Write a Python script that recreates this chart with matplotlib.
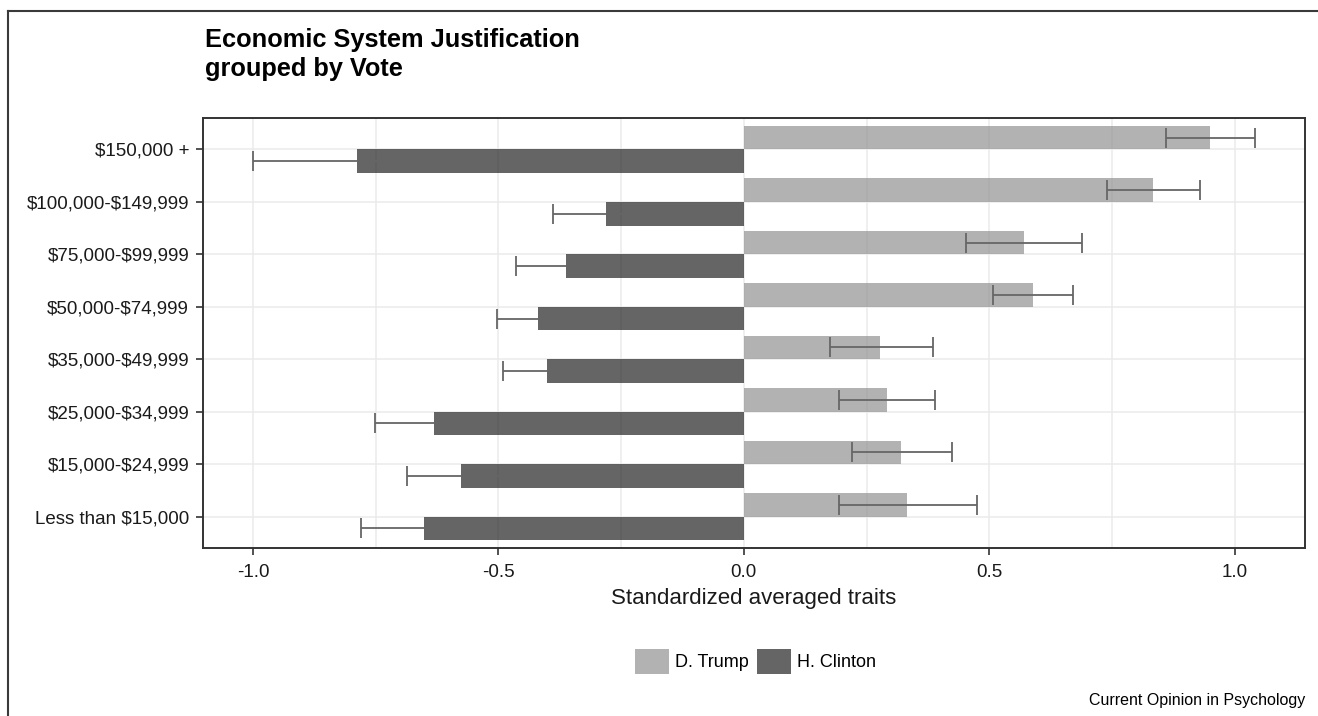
import numpy as np
import matplotlib
matplotlib.use("Agg")
import matplotlib.pyplot as plt
from matplotlib.patches import Patch
from matplotlib.lines import Line2D

plt.rcParams['font.family'] = ['Liberation Sans', 'DejaVu Sans']

# income groups, top to bottom as shown
categories = ['$150,000 +', '$100,000-$149,999', '$75,000-$99,999', '$50,000-$74,999',
              '$35,000-$49,999', '$25,000-$34,999', '$15,000-$24,999', 'Less than $15,000']

# D. Trump voters: mean and error bar ends
trump = [0.949, 0.833, 0.570, 0.589, 0.278, 0.291, 0.320, 0.332]
trump_lo = [0.861, 0.739, 0.453, 0.507, 0.175, 0.194, 0.220, 0.194]
trump_hi = [1.041, 0.929, 0.690, 0.670, 0.385, 0.389, 0.424, 0.475]

# H. Clinton voters: mean and error half-width
clinton = [-0.788, -0.280, -0.363, -0.420, -0.401, -0.632, -0.577, -0.651]
clinton_err = [0.213, 0.108, 0.101, 0.083, 0.089, 0.119, 0.110, 0.130]

xticks = [-1.0, -0.5, 0.0, 0.5, 1.0]
xminor = [-0.75, -0.25, 0.25, 0.75]

trump_color = '#929292'
clinton_color = '#242424'
bar_alpha = 0.7
err_color = '#666666'

fig = plt.figure(figsize=(13.18, 7.16), dpi=100)
ax = fig.add_axes([0.154, 0.2346, 0.836, 0.6006])

y = np.arange(len(categories))[::-1]
h = 0.45
trump_arr = np.array(trump)
ax.barh(y + h / 2, trump, height=h, color=trump_color, alpha=bar_alpha, zorder=2)
ax.barh(y - h / 2, clinton, height=h, color=clinton_color, alpha=bar_alpha, zorder=2)

ax.errorbar(trump, y + h / 2,
            xerr=[trump_arr - np.array(trump_lo), np.array(trump_hi) - trump_arr],
            fmt='none', ecolor=err_color, elinewidth=1.3, capsize=7, capthick=1.3, zorder=3)
ax.errorbar(clinton, y - h / 2, xerr=clinton_err,
            fmt='none', ecolor=err_color, elinewidth=1.3, capsize=7, capthick=1.3, zorder=3)

ax.set_xlim(-1.102, 1.143)
ax.set_ylim(-0.6, 7.6)
ax.set_yticks(y)
# escape dollar signs so they are not read as mathtext
ax.set_yticklabels([c.replace('$', r'\$') for c in categories])
ax.set_xticks(xticks)
ax.set_xticklabels(['%.1f' % v for v in xticks])
ax.set_xticks(xminor, minor=True)
ax.tick_params(axis='x', which='minor', length=0)
ax.tick_params(axis='both', which='major', labelsize=13.5, length=5, width=1.2,
               color='#333333', labelcolor='#1a1a1a', pad=5)
ax.tick_params(axis='x', which='major', pad=6.5)

ax.grid(True, which='both', axis='x', color='#ebebeb', lw=1.1, zorder=0)
ax.grid(True, which='major', axis='y', color='#ebebeb', lw=1.1, zorder=0)
ax.set_axisbelow(True)
for s in ax.spines.values():
    s.set_color('#333333')
    s.set_linewidth(1.4)

ax.set_xlabel('Standardized averaged traits', fontsize=16, color='#1a1a1a', labelpad=5)

fig.text(0.1555, 1 - 47 / 716, 'Economic System Justification', fontsize=18.3,
         fontweight='bold', ha='left', va='baseline')
fig.text(0.1555, 1 - 76 / 716, 'grouped by Vote', fontsize=18.3,
         fontweight='bold', ha='left', va='baseline')

handles = [Patch(facecolor=trump_color, alpha=bar_alpha, label='D. Trump'),
           Patch(facecolor=clinton_color, alpha=bar_alpha, label='H. Clinton')]
fig.legend(handles=handles, loc='center', bbox_to_anchor=(0.5732, 1 - 661.5 / 716),
           ncol=2, frameon=False, fontsize=13, handlelength=1.88, handleheight=1.83,
           handletextpad=0.33, columnspacing=0.5)

fig.text(1305 / 1318, 1 - 700 / 716, 'Current Opinion in Psychology', fontsize=11.5,
         ha='right', va='center')

# outer frame (top and left edges visible)
fig.add_artist(Line2D([8 / 1318, 1.0], [1 - 11 / 716, 1 - 11 / 716],
                      transform=fig.transFigure, color='#3a3a3a', lw=1.5))
fig.add_artist(Line2D([8 / 1318, 8 / 1318], [0.0, 1 - 11 / 716],
                      transform=fig.transFigure, color='#3a3a3a', lw=1.5))

fig.savefig('out.png', dpi=100)
